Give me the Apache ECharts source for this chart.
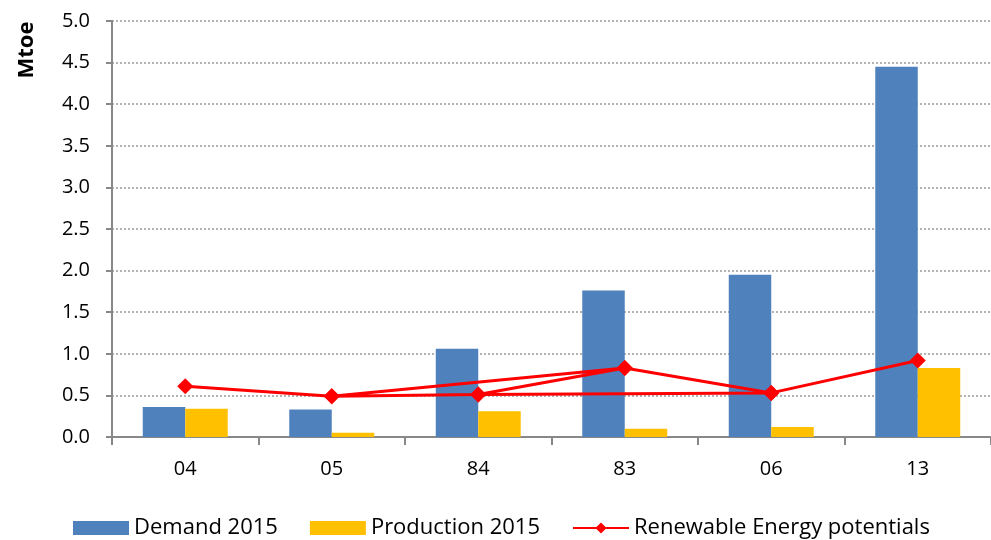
<!DOCTYPE html>
<html>
<head>
<meta charset="utf-8">
<script src="https://cdn.jsdelivr.net/npm/echarts@6/dist/echarts.min.js"></script>
<style>
    html, body { margin: 0; padding: 0; background: #fff; }
    #chart { width: 991px; height: 540px; }
</style>
</head>
<body>
<div id="chart"></div>
<script>
// 区域代码
var categories = ['04', '05', '84', '83', '06', '13'];
var yTicks = [0, 0.5, 1, 1.5, 2, 2.5, 3, 3.5, 4, 4.5, 5];
// Mtoe
var demand2015 = [0.36, 0.33, 1.06, 1.76, 1.95, 4.45];
var production2015 = [0.34, 0.05, 0.31, 0.10, 0.12, 0.83];
var potentials = [0.61, 0.49, 0.51, 0.83, 0.53, 0.92];
// 折线在原图里的连接顺序（有重复段）
var potentialOrder = ['04', '05', '83', '84', '05', '84', '06', '83', '06', '13'];

var chart = echarts.init(document.getElementById('chart'));
var font = 'Open Sans, Noto Sans, sans-serif';

/**
 * 按顺序取折线点
 */
function buildPath() {
    var out = [];
    for (var i = 0; i < potentialOrder.length; i++) {
        var idx = categories.indexOf(potentialOrder[i]);
        out.push([potentialOrder[i], potentials[idx]]);
    }
    return out;
}

var option = {
    animation: false,
    backgroundColor: '#fff',
    grid: {
        left: 112,
        right: 0,
        top: 21,
        bottom: 103
    },
    legend: {
        bottom: -4,
        left: 68,
        itemWidth: 56,
        itemHeight: 14,
        itemGap: 32,
        textStyle: { fontFamily: font, fontSize: 22, color: '#000' },
        data: [
            { name: 'Demand 2015', icon: 'rect' },
            { name: 'Production 2015', icon: 'rect' },
            { name: 'Renewable Energy potentials' }
        ]
    },
    graphic: [{
        type: 'text',
        x: 27,
        y: 50,
        rotation: Math.PI / 2,
        style: {
            text: 'Mtoe',
            font: 'bold 22px ' + font,
            fill: '#000',
            textAlign: 'center',
            textVerticalAlign: 'middle'
        }
    }],
    xAxis: {
        type: 'category',
        data: categories,
        axisLine: { lineStyle: { color: '#888', width: 2 } },
        axisTick: { show: true, length: 8, lineStyle: { color: '#888', width: 2 } },
        axisLabel: { fontFamily: font, fontSize: 20, color: '#000', margin: 22 }
    },
    yAxis: {
        type: 'value',
        min: yTicks[0],
        max: yTicks[yTicks.length - 1],
        interval: 0.5,
        axisLine: { show: true, lineStyle: { color: '#888', width: 2 } },
        axisTick: { show: true, length: 6, lineStyle: { color: '#888', width: 2 } },
        axisLabel: {
            fontFamily: font, fontSize: 20, color: '#000', margin: 22,
            formatter: function (v) { return v.toFixed(1); }
        },
        splitLine: { show: true, lineStyle: { color: '#999', type: [2, 2], width: 1.5 } }
    },
    series: [{
        name: 'Demand 2015',
        type: 'bar',
        barWidth: '29%',
        barGap: '0%',
        itemStyle: { color: '#4F81BD' },
        data: demand2015
    }, {
        name: 'Production 2015',
        type: 'bar',
        barWidth: '29%',
        barGap: '0%',
        itemStyle: { color: '#FFC000' },
        data: production2015
    }, {
        name: 'Renewable Energy potentials',
        type: 'line',
        symbol: 'diamond',
        symbolSize: 16,
        lineStyle: { color: '#FF0000', width: 3 },
        itemStyle: { color: '#FF0000' },
        data: buildPath()
    }]
};

chart.setOption(option);
window.addEventListener('resize', function () {
    chart.resize();
});
</script>
</body>
</html>
